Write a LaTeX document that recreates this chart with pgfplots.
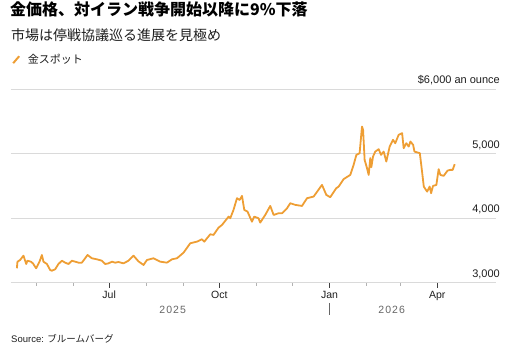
\documentclass[border=0pt]{standalone}
\usepackage{fontspec}
\setmainfont{Liberation Sans}
\newfontfamily\cjk{Noto Sans CJK JP}
\usepackage{pgfplots}
\pgfplotsset{compat=1.18}
\definecolor{gold}{RGB}{238,158,52}
\definecolor{gridc}{RGB}{218,218,218}
\definecolor{txt}{RGB}{30,30,30}
\pgfplotstableread{
d v
-77.1 3224
-76.6 3326
-74.4 3352
-71.6 3419
-69.3 3290
-68.3 3341
-65.4 3326
-63.7 3300
-61.0 3224
-58.2 3326
-56.2 3430
-54.9 3326
-52.0 3290
-49.3 3197
-47.9 3186
-45.1 3208
-42.4 3290
-39.5 3341
-36.8 3311
-34.0 3290
-31.2 3341
-28.4 3326
-25.6 3311
-22.8 3311
-20.1 3379
-18.1 3430
-14.5 3379
-10.3 3363
-6.1 3341
-3.3 3290
-0.6 3300
2.3 3326
5.0 3311
7.8 3321
11.9 3300
16.1 3341
20.3 3419
24.5 3330
28.7 3275
31.5 3352
37.0 3379
42.6 3326
48.2 3311
52.4 3363
56.6 3379
62.1 3466
67.7 3612
73.3 3637
77.4 3674
79.4 3637
84.4 3751
87.1 3741
91.3 3854
94.2 3896
99.7 4025
101.1 4000
103.8 4129
106.7 4311
108.9 4284
110.9 4346
112.8 4129
115.5 4103
119.2 3947
121.1 4025
124.7 4000
126.1 3932
130.3 4051
134.5 4191
137.3 4051
141.4 4077
144.3 4077
148.5 4155
151.2 4233
155.4 4207
161.0 4191
165.2 4311
170.7 4336
176.3 4481
177.7 4517
181.3 4362
184.6 4326
189.6 4466
191.6 4491
195.7 4606
201.3 4672
204.1 4828
206.4 4983
209.1 5009
211.1 5422
212.0 5371
213.3 4905
215.3 4776
216.7 4672
218.0 4932
218.9 4792
220.3 4957
222.2 5034
225.0 5071
227.0 4983
229.2 5034
231.4 4879
234.2 5112
237.0 5216
238.9 5164
241.7 5294
244.6 5320
245.9 5087
248.1 5164
250.1 5112
251.5 5190
253.8 5138
254.9 5034
259.4 5009
261.4 4699
262.7 4491
265.5 4413
267.6 4491
268.8 4388
270.4 4501
273.2 4517
275.1 4761
276.5 4672
279.3 4657
282.6 4740
284.9 4750
286.8 4750
288.5 4838
}\gold
\begin{document}
\begin{tikzpicture}
\useasboundingbox (0,0) rectangle (512bp,351bp);
\node[anchor=base west, inner sep=0, text=black, font=\cjk\bfseries\fontsize{16bp}{18bp}\selectfont] at (10bp,335.5bp) {金価格、対イラン戦争開始以降に9\%下落};
\node[anchor=base west, inner sep=0, text=txt, font=\cjk\fontsize{14bp}{16bp}\selectfont] at (11bp,310.5bp) {市場は停戦協議巡る進展を見極め};
\begin{axis}[
  at={(11bp,68.3bp)}, anchor=south west,
  scale only axis, width=485bp, height=193.4bp,
  xmin=-82, xmax=323, ymin=3000, ymax=6000,
  axis line style={draw=none},
  ytick={3000,4000,5000,6000},
  yticklabels={{3,000},{4,000},{5,000},{\$6,000 an ounce}},
  yticklabel pos=right,
  yticklabel style={anchor=south east, inner sep=0pt, xshift=-1bp, yshift=4bp, font=\fontsize{11bp}{13bp}\selectfont, text=txt},
  ymajorgrids, major grid style={gridc, line width=0.9bp},
  y tick style={draw=none},
  xtick={0,92,184,274}, xticklabels={Jul,Oct,Jan,Apr},
  minor xtick={-61,-30,31,62,123,153,215,243},
  xtick pos=bottom, tick align=outside,
  major tick length=5bp, minor tick length=3bp,
  x tick style={black!75, line width=0.8bp},
  minor x tick style={black!30, line width=0.8bp},
  xticklabel style={font=\fontsize{10.5bp}{12bp}\selectfont, text=txt},
  /pgf/number format/assume math mode=true,
  legend style={at={(0,1)}, anchor=south west, xshift=1bp, yshift=24bp, draw=none, fill=none, inner sep=0pt, nodes={inner sep=0pt}, font=\cjk\fontsize{11bp}{13bp}\selectfont, text=txt},
  legend cell align=left,
  legend image code/.code={\path[draw=none] (0bp,0bp) -- (14.7bp,0bp); \draw[#1, line width=2bp] (0bp,-3.5bp) -- (6bp,3.5bp);},
]
\addplot[gold, line width=1.8bp, line join=round] table[x=d, y=v] {\gold};
\addlegendentry{金スポット}
\end{axis}
\node[font=\fontsize{10.5bp}{12bp}\selectfont\addfontfeature{LetterSpace=10}, text=black!60] at (172.7bp,41.5bp) {2025};
\node[font=\fontsize{10.5bp}{12bp}\selectfont\addfontfeature{LetterSpace=10}, text=black!60] at (391.7bp,41.5bp) {2026};
\draw[black!60, line width=0.8bp] (329.3bp,48bp) -- (329.3bp,36bp);
\node[anchor=base west, inner sep=0, text=txt, font=\fontsize{9.5bp}{11bp}\selectfont] at (11bp,9bp) {Source: {\cjk ブルームバーグ}};
\end{tikzpicture}
\end{document}
